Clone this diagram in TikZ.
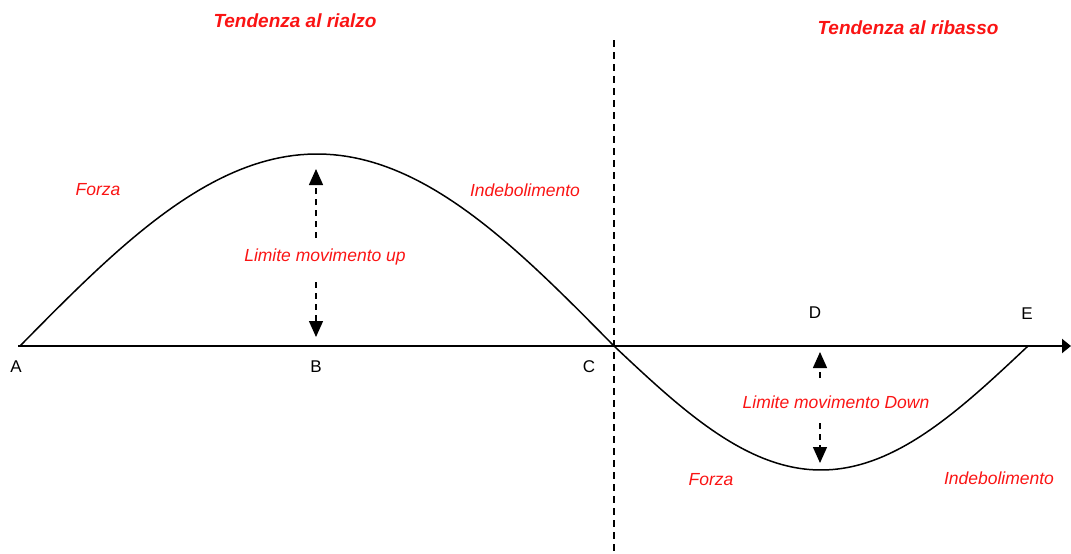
\documentclass[tikz,border=0pt]{standalone}
\usepackage{fontspec}
\setmainfont{Liberation Sans}
\usetikzlibrary{arrows.meta}
\definecolor{lbl}{RGB}{250,20,20}
\tikzset{
  redlbl/.style={text=lbl, font=\fontsize{17.5}{20}\selectfont\itshape, inner sep=0pt},
  title/.style={text=lbl, font=\fontsize{19}{22}\selectfont\bfseries\itshape, inner sep=0pt},
  pt/.style={font=\fontsize{17}{19}\selectfont, inner sep=0pt},
  limarrow/.style={dashed, dash pattern=on 6pt off 5pt, line width=1.4pt, -{Triangle[width=14pt,length=16pt]}},
  curve/.style={line width=1.5pt},
}
\begin{document}
\begin{tikzpicture}[x=1pt,y=-1pt]
\useasboundingbox (0,0) rectangle (1071,554);
% axis
\coordinate (axs) at (18,346);
\coordinate (axe) at (1071,346);
\draw[line width=2pt, -{Triangle[width=14pt,length=9pt]}] (axs) -- (axe);
% dashed divider
\coordinate (vt) at (614,40);
\coordinate (vb) at (614,554);
\draw[line width=1.3pt, dash pattern=on 7pt off 5pt] (vt) -- (vb);
% curve
\draw[curve] plot[domain=0:180, samples=90] ({20+3.3*\x},{346-192*sin(\x)});
\draw[curve] plot[domain=0:180, samples=90] ({614+2.3*\x},{346+124*sin(\x)});
% point labels
\node[pt] (A) at (16,367) {A};
\node[pt] (B) at (316,367) {B};
\node[pt] (C) at (589,367) {C};
\node[pt] (D) at (815,313) {D};
\node[pt] (E) at (1027,314) {E};
% titles
\node[title] (t1) at (295,21) {Tendenza al rialzo};
\node[title] (t2) at (908,28) {Tendenza al ribasso};
% region labels
\node[redlbl] (f1) at (98,190) {Forza};
\node[redlbl] (i1) at (525,190) {Indebolimento};
\node[redlbl] (f2) at (711,480) {Forza};
\node[redlbl] (i2) at (999,478) {Indebolimento};
\node[redlbl] (lu) at (325,257) {Limite movimento up};
\node[redlbl] (ld) at (836,402) {Limite movimento Down};
% limit arrows
\coordinate (u1) at (316,238);
\coordinate (u1t) at (316,169);
\coordinate (u2) at (316,282);
\coordinate (u2t) at (316,337);
\draw[limarrow] (u1) -- (u1t);
\draw[limarrow] (u2) -- (u2t);
\coordinate (d1) at (820,378);
\coordinate (d1t) at (820,352);
\coordinate (d2) at (820,423);
\coordinate (d2t) at (820,463);
\draw[limarrow] (d1) -- (d1t);
\draw[limarrow] (d2) -- (d2t);
\end{tikzpicture}
\end{document}
